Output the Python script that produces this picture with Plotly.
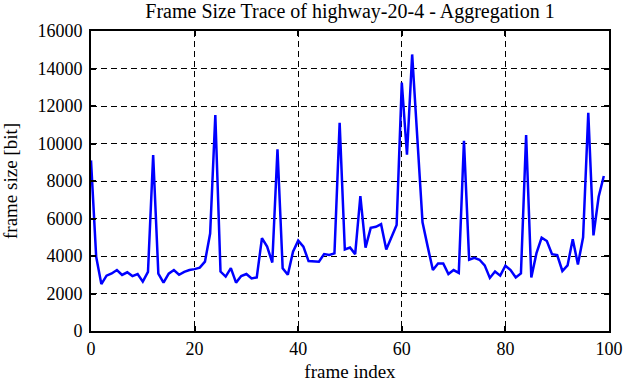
import plotly.graph_objects as go

frame_index = list(range(100))
frame_size = [
    9100, 3960, 2500, 2950, 3070, 3250, 2990, 3130, 2930, 3040,
    2630, 3150, 9390, 3060, 2580, 3060, 3250, 3000, 3150, 3250,
    3300, 3380, 3700, 5200, 11520, 3170, 2900, 3350, 2580, 2930,
    3040, 2800, 2860, 4950, 4500, 3650, 9690, 3350, 3000, 4230,
    4820, 4500, 3730, 3700, 3700, 4100, 4050, 4140, 11100, 4350,
    4450, 4100, 7200, 4450, 5500, 5560, 5700, 4350, 5000, 5650,
    13250, 9400, 14750, 10200, 5800, 4500, 3250, 3600, 3600, 3040,
    3250, 3100, 10150, 3800, 3900, 3800, 3500, 2830, 3170, 2950,
    3480, 3250, 2850, 3070, 10450, 2850, 4150, 4980, 4800, 4100,
    4050, 3200, 3500, 4900, 3550, 5000, 11640, 5100, 7160, 8270,
]

title_text = "Frame Size Trace of highway-20-4 - Aggregation 1"
x_title = "frame index"
y_title = "frame size [bit]"
x_ticks = [0, 20, 40, 60, 80, 100]
y_ticks = [0, 2000, 4000, 6000, 8000, 10000, 12000, 14000, 16000]

FF = "Liberation Serif"

fig = go.Figure()
fig.add_trace(go.Scatter(
    x=frame_index, y=frame_size, mode="lines",
    line=dict(color="#0000ff", width=2.5),
    showlegend=False,
))

def axis_common():
    return dict(
        showline=True, linecolor="black", linewidth=2, mirror="ticks",
        ticks="inside", ticklen=5, tickwidth=1.5, tickcolor="black",
        showgrid=True, gridcolor="black", gridwidth=1, griddash="6px,4px",
        zeroline=False, automargin=False,
        tickfont=dict(family=FF, size=18, color="black"),
    )

fig.update_xaxes(
    range=[0, 100], tickvals=x_ticks, ticktext=[str(v) for v in x_ticks],
    title=dict(text=x_title, font=dict(family=FF, size=19, color="black"), standoff=8),
    **axis_common(),
)
fig.update_yaxes(
    range=[0, 16000], tickvals=y_ticks, ticktext=[str(v) for v in y_ticks],
    ticklabelstandoff=3,
    title=dict(text=y_title, font=dict(family=FF, size=19, color="black"), standoff=15),
    **axis_common(),
)

fig.update_layout(
    width=626, height=382,
    margin=dict(l=91, r=17, t=31, b=51, autoexpand=False),
    paper_bgcolor="white", plot_bgcolor="white",
    title=dict(text=title_text, x=0.5, xanchor="center", xref="paper",
               y=1.0, yanchor="top", yref="container", pad=dict(t=4),
               font=dict(family=FF, size=20, color="black")),
    font=dict(family=FF, color="black", size=18),
)

fig.write_html("out.html", config={"displayModeBar": False},
               post_script="document.body.style.margin='0';")
